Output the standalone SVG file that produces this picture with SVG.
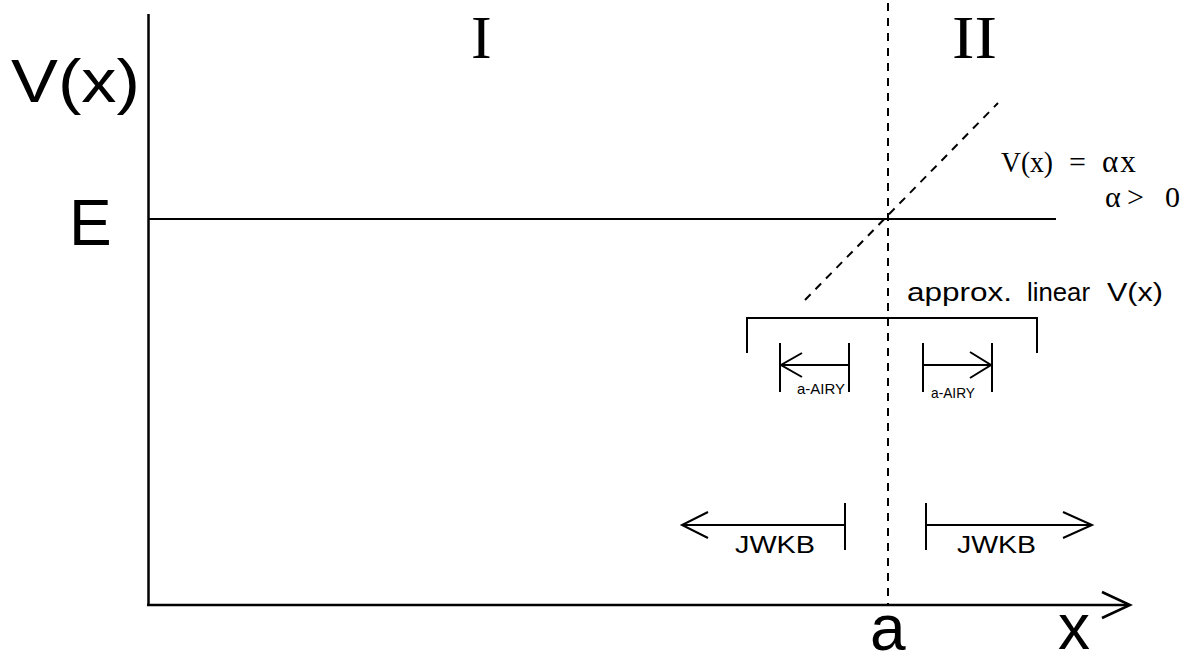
<svg xmlns="http://www.w3.org/2000/svg" width="1196" height="655" viewBox="0 0 1196 655">
<style>
.ln{stroke:#000;stroke-width:2;fill:none;stroke-linecap:butt}
.ax{stroke:#000;stroke-width:2.5;fill:none}
.dash{stroke:#000;stroke-width:2;fill:none;stroke-dasharray:8 7}
.sans{font-family:"Liberation Sans",Arial,Helvetica,sans-serif;fill:#000}
.serif{font-family:"Liberation Serif","Times New Roman",serif;fill:#000}
</style>
<rect width="1196" height="655" fill="#fff"/>
<g id="axes">
<line class="ax" x1="148.5" y1="14" x2="148.5" y2="606"/>
<line class="ax" x1="147" y1="605" x2="1129" y2="605"/>
<polyline class="ax" points="1102,592 1130,605 1102,618"/>
<text class="sans" x="11" y="102" font-size="62" textLength="129" lengthAdjust="spacingAndGlyphs">V(x)</text>
<text class="sans" x="69" y="245" font-size="64">E</text>
<text class="sans" x="870" y="650" font-size="64">a</text>
<text class="sans" x="1058" y="649" font-size="64">x</text>
</g>
<g id="energy">
<line class="ln" x1="148" y1="219" x2="1056" y2="219"/>
</g>
<g id="turning-point">
<line class="dash" x1="888" y1="3" x2="888" y2="604"/>
</g>
<g id="potential">
<line class="dash" x1="805" y1="300" x2="998" y2="103"/>
<text class="serif" x="1001" y="172" font-size="30" textLength="52" lengthAdjust="spacingAndGlyphs">V(x)</text>
<text class="serif" x="1069" y="172" font-size="30">=</text>
<text class="serif" x="1102" y="172" font-size="31" letter-spacing="2">αx</text>
<text class="serif" x="1105" y="207" font-size="30">α</text>
<text class="serif" x="1127" y="207" font-size="30">&gt;</text>
<text class="serif" x="1165" y="207" font-size="30">0</text>
</g>
<g id="regions">
<text class="serif" x="471" y="58" font-size="62">I</text>
<text class="serif" x="952" y="58" font-size="62" textLength="45" lengthAdjust="spacingAndGlyphs">II</text>
</g>
<g id="linear-region">
<polyline class="ln" points="747,353 747,318 1037,318 1037,353"/>
<text class="sans" x="907" y="301" font-size="26" textLength="105" lengthAdjust="spacingAndGlyphs">approx.</text>
<text class="sans" x="1027" y="301" font-size="26" textLength="63" lengthAdjust="spacingAndGlyphs">linear</text>
<text class="sans" x="1107" y="301" font-size="26" textLength="56" lengthAdjust="spacingAndGlyphs">V(x)</text>
</g>
<g id="connectors">
<g id="airy-left">
<line class="ln" x1="780" y1="343" x2="780" y2="392"/>
<line class="ln" x1="849" y1="343" x2="849" y2="392"/>
<line class="ln" x1="781" y1="365" x2="849" y2="365"/>
<polyline class="ln" points="802,353 781,365 802,377"/>
</g>
<g id="airy-right">
<line class="ln" x1="923" y1="343" x2="923" y2="392"/>
<line class="ln" x1="992" y1="343" x2="992" y2="392"/>
<line class="ln" x1="923" y1="365" x2="991" y2="365"/>
<polyline class="ln" points="970,352 991,365 970,378"/>
</g>
<g id="jwkb-left">
<line class="ln" x1="845" y1="503" x2="845" y2="550"/>
<line class="ln" x1="683" y1="525" x2="845" y2="525"/>
<polyline class="ln" points="708,512 682,525 708,538"/>
</g>
<g id="jwkb-right">
<line class="ln" x1="926" y1="503" x2="926" y2="550"/>
<line class="ln" x1="926" y1="525" x2="1091" y2="525"/>
<polyline class="ln" points="1063,512 1092,525 1063,538"/>
</g>
</g>
<g id="labels">
<text class="sans" x="797" y="394" font-size="15" textLength="48" lengthAdjust="spacingAndGlyphs">a-AIRY</text>
<text class="sans" x="931" y="398" font-size="15" textLength="44" lengthAdjust="spacingAndGlyphs">a-AIRY</text>
<text class="sans" x="735" y="553" font-size="24" textLength="80" lengthAdjust="spacingAndGlyphs">JWKB</text>
<text class="sans" x="957" y="553" font-size="24" textLength="79" lengthAdjust="spacingAndGlyphs">JWKB</text>
</g>
</svg>
